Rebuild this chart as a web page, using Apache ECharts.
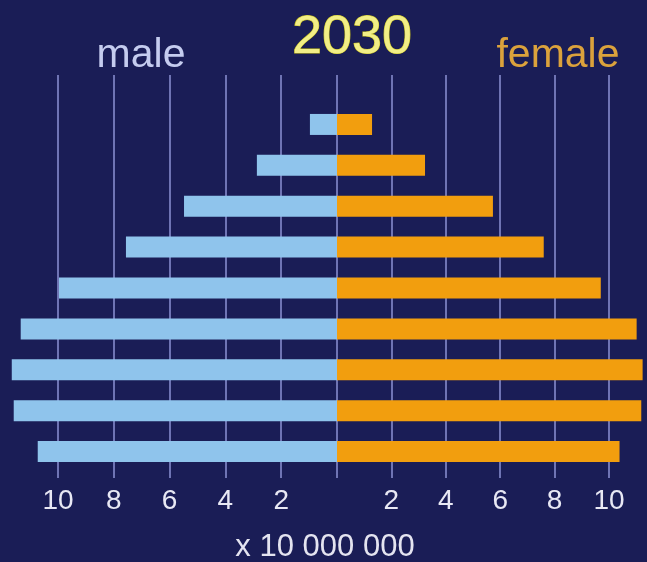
<!DOCTYPE html>
<html>
<head>
<meta charset="utf-8">
<script src="https://cdn.jsdelivr.net/npm/echarts@6/dist/echarts.min.js"></script>
<style>
  html, body { margin: 0; padding: 0; background: #1a1d56; }
  #chart { width: 647px; height: 562px; }
</style>
</head>
<body>
<div id="chart"></div>
<script>
// age bands, oldest at the top
const ageGroups = ['80+', '70-79', '60-69', '50-59', '40-49', '30-39', '20-29', '10-19', '0-9'];
// units of 10 000 000 people
const maleValues = [0.97, 2.87, 5.48, 7.56, 9.96, 11.33, 11.65, 11.58, 10.72];
const femaleValues = [1.29, 3.24, 5.74, 7.61, 9.71, 11.03, 11.25, 11.2, 10.4];
const tickStep = 2;
const tickMax = 10;

const chart = echarts.init(document.getElementById('chart'));

const labelFmt = function (v) {
  return v === 0 ? '' : String(v);
};

const gridLineColor = '#6f74b4';
const hiddenAxis = {
  axisLine: { show: false }, axisTick: { show: false },
  axisLabel: { show: false }, splitLine: { show: false }
};

let options = {
  backgroundColor: '#1a1d56',
  animation: false,
  title: [
    {
      text: '2030', left: 347, top: 6, textAlign: 'center',
      textStyle: { color: '#f2ee86', fontSize: 54, fontWeight: 'normal', fontFamily: 'Liberation Sans',
        textBorderColor: '#c9c21a', textBorderWidth: 1 }
    },
    {
      text: 'male', left: 136, top: 30, textAlign: 'center',
      textStyle: { color: '#c5ccef', fontSize: 41, fontWeight: 'normal', fontFamily: 'Liberation Sans' }
    },
    {
      text: 'female', left: 553, top: 30, textAlign: 'center',
      textStyle: { color: '#dba23c', fontSize: 41, fontWeight: 'normal', fontFamily: 'Liberation Sans' }
    },
    {
      text: 'x 10 000 000', left: 320, top: 527, textAlign: 'center',
      textStyle: { color: '#e4e4f0', fontSize: 31, fontWeight: 'normal', fontFamily: 'Liberation Sans' }
    }
  ],
  grid: [
    { left: 2, width: 335, top: 104, bottom: 90, outerBoundsMode: 'none' },
    { left: 337, width: 326, top: 104, bottom: 90, outerBoundsMode: 'none' },
    { left: 58, width: 279, top: 75, bottom: 84, outerBoundsMode: 'none' },
    { left: 337, width: 272, top: 75, bottom: 84, outerBoundsMode: 'none' }
  ],
  xAxis: [
    Object.assign({ gridIndex: 0, type: 'value', inverse: true, min: 0, max: 12 }, hiddenAxis),
    Object.assign({ gridIndex: 1, type: 'value', min: 0, max: 12 }, hiddenAxis),
    { gridIndex: 2, type: 'value', inverse: true, min: 0, max: tickMax, interval: tickStep,
      axisLine: { show: false }, axisTick: { show: false },
      axisLabel: { formatter: labelFmt, color: '#e8e8f4', fontSize: 28, margin: 9, fontFamily: 'Liberation Sans' },
      splitLine: { lineStyle: { color: gridLineColor, width: 2 } } },
    { gridIndex: 3, type: 'value', min: 0, max: tickMax, interval: tickStep,
      axisLine: { show: false }, axisTick: { show: false },
      axisLabel: { formatter: labelFmt, color: '#e8e8f4', fontSize: 28, margin: 9, fontFamily: 'Liberation Sans' },
      splitLine: { lineStyle: { color: gridLineColor, width: 2 } } }
  ],
  yAxis: [
    { gridIndex: 0, type: 'category', inverse: true, data: ageGroups, show: false },
    { gridIndex: 1, type: 'category', inverse: true, data: ageGroups, show: false },
    { gridIndex: 2, type: 'value', min: 0, max: 1, show: false },
    { gridIndex: 3, type: 'value', min: 0, max: 1, show: false }
  ],
  series: [
    { name: 'male', type: 'bar', xAxisIndex: 0, yAxisIndex: 0, data: maleValues,
      barWidth: 21, itemStyle: { color: '#8fc4ec' }, z: 5 },
    { name: 'female', type: 'bar', xAxisIndex: 1, yAxisIndex: 1, data: femaleValues,
      barWidth: 21, itemStyle: { color: '#f29e0e' }, z: 5 }
  ]
};

chart.setOption(options);
</script>
</body>
</html>
